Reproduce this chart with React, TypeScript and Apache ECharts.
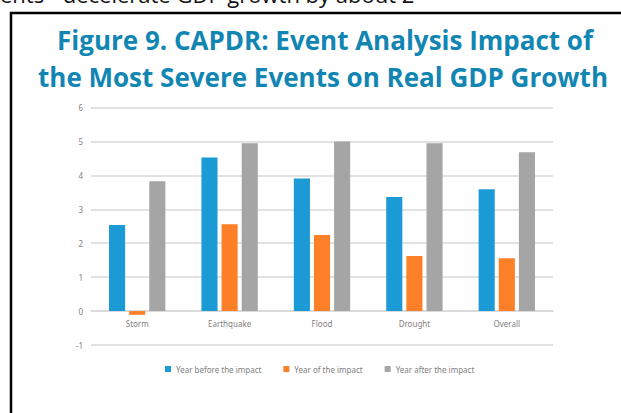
import React, { useEffect, useRef } from "react";
import * as echarts from "echarts";

const categories = ["Storm", "Earthquake", "Flood", "Drought", "Overall"];
const yearBefore = [2.54, 4.53, 3.91, 3.36, 3.59];
const yearOf = [-0.11, 2.56, 2.24, 1.62, 1.56];
const yearAfter = [3.83, 4.95, 5.0, 4.95, 4.68];
const seriesNames = ["Year before the impact", "Year of the impact", "Year after the impact"];
const titleLines = ["Figure 9. CAPDR: Event Analysis Impact of", "the Most Severe Events on Real GDP Growth"];
const topText = "ents - decelerate GDP growth by about 2";

export default function App() {
  const ref = useRef<HTMLDivElement>(null);
  useEffect(() => {
    if (!ref.current) return;
    const chart = echarts.init(ref.current, null, { renderer: "svg" });
    const font = "'Open Sans', 'Noto Sans', sans-serif";
    const small = "'Noto Sans', 'Open Sans', sans-serif";
    chart.setOption({
      animation: false,
      backgroundColor: "#ffffff",
      textStyle: { fontFamily: small },
      graphic: [
        { type: "text", left: 0, top: -17, style: { text: topText, font: "22px 'Open Sans', sans-serif", fill: "#111" } },
        { type: "line", shape: { x1: 10, y1: 13, x2: 621, y2: 13 }, style: { stroke: "#000", lineWidth: 2.5 } },
        { type: "line", shape: { x1: 11, y1: 12, x2: 11, y2: 413 }, style: { stroke: "#000", lineWidth: 2.5 } },
        { type: "text", x: 325, y: 40, style: { text: titleLines[0], font: `bold 26px ${font}`, fill: "#1286b3", align: "center", verticalAlign: "middle" } },
        { type: "text", x: 323, y: 77, style: { text: titleLines[1], font: `bold 26px ${font}`, fill: "#1286b3", align: "center", verticalAlign: "middle" } },
      ],
      legend: {
        left: 160,
        top: 360,
        itemWidth: 6,
        itemHeight: 6,
        itemGap: 22,
        icon: "rect",
        textStyle: { fontSize: 8, color: "#7f7f7f", fontFamily: small },
        data: seriesNames,
      },
      grid: { left: 91, right: 68, top: 107.5, bottom: 68, containLabel: false },
      xAxis: {
        type: "category",
        data: categories,
        offset: -33.9,
        axisLine: { onZero: false, lineStyle: { color: "#d9d9d9", width: 1.5 } },
        axisTick: { show: false },
        axisLabel: { fontSize: 8, color: "#7f7f7f", margin: 8 },
      },
      yAxis: {
        type: "value",
        min: -1,
        max: 6,
        interval: 1,
        axisLine: { show: false },
        axisTick: { show: false },
        axisLabel: { fontSize: 8, color: "#7f7f7f", margin: 8 },
        splitLine: { lineStyle: { color: "#d9d9d9", width: 1.5 } },
      },
      series: [
        { name: seriesNames[0], type: "bar", data: yearBefore, itemStyle: { color: "#1b9ad6" }, barGap: "25%", barCategoryGap: "39%" },
        { name: seriesNames[1], type: "bar", data: yearOf, itemStyle: { color: "#fd7f27" } },
        { name: seriesNames[2], type: "bar", data: yearAfter, itemStyle: { color: "#a5a5a5" } },
      ],
    });
    return () => chart.dispose();
  }, []);
  return <div ref={ref} style={{ position: "fixed", left: 0, top: 0, width: 621, height: 413 }} />;
}
